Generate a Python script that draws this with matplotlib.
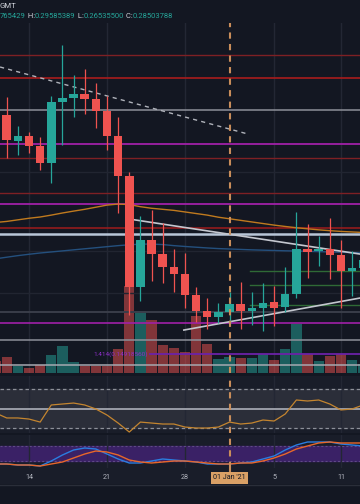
import matplotlib
matplotlib.use("Agg")
import matplotlib.pyplot as plt

plt.rcParams['lines.scale_dashes'] = False
plt.rcParams['font.family'] = ['Roboto', 'DejaVu Sans']

# ---------------- data ----------------
day_idx = list(range(-3, 31))  # Dec 11 .. Jan 13 (0 = Dec 14)
opens = [0.4774, 0.4640, 0.4394, 0.4441, 0.4346, 0.4185, 0.4764, 0.4802, 0.4840, 0.4793,
         0.4679, 0.4441, 0.4061, 0.3007, 0.3453, 0.3320, 0.3197, 0.3130, 0.2931, 0.2779,
         0.2722, 0.2765, 0.2850, 0.2779, 0.2807, 0.2864, 0.2817, 0.2940, 0.3368, 0.3349,
         0.3368, 0.3311, 0.3159, 0.3187]
highs = [0.4830, 0.4812, 0.4536, 0.4479, 0.4432, 0.4821, 0.5305, 0.5021, 0.5078, 0.4945,
         0.4821, 0.4622, 0.4099, 0.3681, 0.3738, 0.3615, 0.3368, 0.3330, 0.3007, 0.2902,
         0.2855, 0.2959, 0.3054, 0.2959, 0.3045, 0.3016, 0.3197, 0.3719, 0.3605, 0.3491,
         0.3662, 0.3453, 0.3349, 0.3311]
lows = [0.4574, 0.4232, 0.4260, 0.4280, 0.4118, 0.3995, 0.4356, 0.4622, 0.4650, 0.4517,
        0.4308, 0.3710, 0.2741, 0.2874, 0.3064, 0.3045, 0.2959, 0.2807, 0.2674, 0.2608,
        0.2665, 0.2654, 0.2608, 0.2646, 0.2589, 0.2636, 0.2769, 0.2902, 0.3092, 0.3206,
        0.3083, 0.2807, 0.2921, 0.3121]
closes = [0.4650, 0.4403, 0.4441, 0.4346, 0.4185, 0.4764, 0.4802, 0.4840, 0.4793, 0.4679,
          0.4441, 0.4061, 0.3007, 0.3453, 0.3320, 0.3197, 0.3130, 0.2931, 0.2779, 0.2722,
          0.2769, 0.2850, 0.2779, 0.2807, 0.2855, 0.2807, 0.2940, 0.3368, 0.3339, 0.3368,
          0.3311, 0.3159, 0.3187, 0.3263]
volumes = [12, 16, 7, 5, 8, 18, 27, 11, 7, 7, 7, 24, 87, 62, 53, 28, 25, 21, 57, 29,
           14, 16, 15, 15, 19, 13, 24, 49, 19, 12, 17, 19, 13, 9]
ma_orange = [0.3620, 0.3630, 0.3645, 0.3660, 0.3672, 0.3690, 0.3710, 0.3728, 0.3745, 0.3765,
             0.3785, 0.3795, 0.3790, 0.3770, 0.3755, 0.3745, 0.3735, 0.3720, 0.3705, 0.3690,
             0.3670, 0.3655, 0.3640, 0.3625, 0.3610, 0.3595, 0.3582, 0.3570, 0.3560, 0.3550,
             0.3542, 0.3535, 0.3530, 0.3525]
ma_blue = [0.3275, 0.3290, 0.3305, 0.3318, 0.3330, 0.3340, 0.3350, 0.3360, 0.3370, 0.3380,
           0.3390, 0.3400, 0.3408, 0.3414, 0.3415, 0.3410, 0.3400, 0.3392, 0.3385, 0.3378,
           0.3372, 0.3368, 0.3364, 0.3360, 0.3357, 0.3354, 0.3351, 0.3349, 0.3346, 0.3343,
           0.3340, 0.3337, 0.3334, 0.3331]
rsi = [45.4, 40.3, 40.3, 39.2, 36.1, 53.6, 54.6, 55.6, 53.6, 49.5, 43.3, 35.1, 25.9, 36.1,
       35.1, 34.1, 34.1, 31.0, 30.0, 30.0, 31.0, 36.1, 34.1, 35.1, 38.2, 37.2, 44.4, 58.7,
       57.7, 58.7, 54.6, 48.5, 49.5, 53.6]
stoch_k = [8, 8, 4, 4, 0, 20, 44, 64, 72, 68, 48, 28, 12, 12, 20, 28, 24, 20, 16, 8, 8, 8,
           12, 16, 28, 40, 64, 84, 96, 96, 96, 88, 84, 80]
stoch_d = [8, 8, 4, 4, 0, 8, 16, 32, 48, 60, 56, 44, 24, 16, 12, 16, 20, 20, 16, 12, 8, 8,
           12, 12, 20, 32, 48, 68, 80, 92, 96, 92, 92, 92]

# horizontal levels (price, color, linewidth)
level_prices = [0.5211, 0.4992, 0.4688, 0.4365, 0.4232, 0.3900, 0.3795, 0.3567, 0.3510,
                0.2769, 0.2665, 0.2503, 0.2266]
level_colors = ['#7e2024', '#a81c1c', '#8d9099', '#a020a8', '#7e2024', '#7e2024', '#a020a8',
                '#9e1c1c', '#b9c6d8', '#3a3e4a', '#a020a8', '#8d9099', '#a6a9b1']
level_widths = [1.0, 1.2, 1.1, 1.3, 1.0, 1.0, 1.3, 1.1, 1.8, 1.4, 1.2, 1.1, 1.1]
pivot_prices = [0.3159, 0.3026, 0.2836]
fib_price = 0.2370
fib_label = "1.414(0.14918560)"
# trend lines: (x0, p0, x1, p1)
trend_dashed = (-2.6, 0.5097, 19.66, 0.4460)
trend_upper = (8.98, 0.3653, 29.7, 0.3320)
trend_lower = (13.9, 0.2598, 29.7, 0.2902)

tick_idx = [0, 7, 14, 22, 28]
tick_labels = ["14", "21", "28", "5", "11"]
cross_idx = 18
cross_label = "01 Jan '21"
header_parts = [("765429", 'v'), (" H:", 'k'), ("0.29585389", 'v'), (" L:", 'k'),
                ("0.26535500", 'v'), (" C:", 'k'), ("0.28503788", 'v')]

# ---------------- style ----------------
W, H = 360, 504
BG = '#191d29'
HEADER = '#131722'
UP, DOWN = '#26a69a', '#ef5350'
XLIM = (-2.604, 29.71)

fig = plt.figure(figsize=(W / 100, H / 100), dpi=100, facecolor=HEADER)


def add_ax(y0, y1):
    a = fig.add_axes([0, 1 - y1 / H, 1, (y1 - y0) / H])
    a.set_facecolor(BG)
    a.set_xlim(*XLIM)
    a.set_xticks([])
    a.set_yticks([])
    for s in a.spines.values():
        s.set_visible(False)
    return a


# main pane (volume on a twin axis drawn beneath)
ax = add_ax(23, 373)
ax.set_ylim(0.2190, 0.5515)
axv = ax.twinx()
axv.set_ylim(0, 350)
axv.set_yticks([])
for s in axv.spines.values():
    s.set_visible(False)
ax.set_zorder(axv.get_zorder() + 1)
ax.patch.set_visible(False)
axv.set_facecolor(BG)

for t in tick_idx:
    axv.axvline(t, color='#232734', lw=1.0, zorder=0)
for yg in [0.4100, 0.3350, 0.2950]:
    ax.axhline(yg, color='#212531', lw=1.0, zorder=0)

colors = [UP if c >= o else DOWN for o, c in zip(opens, closes)]
axv.bar(day_idx, volumes, width=0.92, color=colors, alpha=0.5, zorder=1)

for p, c, w in zip(level_prices, level_colors, level_widths):
    ax.axhline(p, color=c, lw=w, zorder=2)
for p in pivot_prices:
    ax.plot([19.84, XLIM[1]], [p, p], color='#2f6a36', lw=1.0, zorder=2)
ax.plot([10.86, XLIM[1]], [fib_price, fib_price], color='#6b22a8', lw=1.3, zorder=2)
ax.text(10.7, fib_price, fib_label, color='#8e2fc9', fontsize=4.6, ha='right', va='center',
        zorder=3)

ax.plot(day_idx, ma_orange, color='#c07a1e', lw=1.0, zorder=2)
ax.plot(day_idx, ma_blue, color='#24507e', lw=1.0, zorder=2)

x0, p0, x1, p1 = trend_dashed
ax.plot([x0, x1], [p0, p1], color='#b0b3bb', lw=1.0, dashes=(3, 3), zorder=2)
for tr in (trend_upper, trend_lower):
    x0, p0, x1, p1 = tr
    ax.plot([x0, x1], [p0, p1], color='#c4c7cf', lw=1.2, zorder=2)

for i, o, h, l, c, col in zip(day_idx, opens, highs, lows, closes, colors):
    ax.plot([i, i], [l, h], color=col, lw=0.9, zorder=4, solid_capstyle='butt')
    lo, hi = min(o, c), max(o, c)
    ax.bar(i, max(hi - lo, 0.0012), bottom=lo, width=0.76, color=col, zorder=5, lw=0)

# RSI pane
ar = add_ax(376, 433)
ar.set_ylim(24.9, 83.3)
ar.axhspan(30, 70, color='#2b2e39', zorder=0)
ar.axhline(70, color='#8d9099', lw=0.9, dashes=(2.5, 2), zorder=1)
ar.axhline(30, color='#8d9099', lw=0.9, dashes=(2.5, 2), zorder=1)
ar.axhline(50, color='#9a9da6', lw=1.4, zorder=1)
for t in tick_idx:
    ar.axvline(t, color='#232734', lw=1.0, zorder=0)
ar.plot(day_idx, rsi, color='#c4852f', lw=0.9, zorder=3)

# Stoch RSI pane
ast = add_ax(435, 468)
ast.set_ylim(-8, 124)
ast.axhspan(20, 80, color='#3a2166', zorder=0)
ast.axhline(80, color='#5f4a86', lw=0.8, dashes=(1.5, 1.5), zorder=1)
ast.axhline(20, color='#5f4a86', lw=0.8, dashes=(1.5, 1.5), zorder=1)
for t in tick_idx:
    ast.axvline(t, color='#232734', lw=1.0, zorder=0)
ast.plot(day_idx, stoch_k, color='#2a7de1', lw=1.0, zorder=3)
ast.plot(day_idx, stoch_d, color='#e8672a', lw=1.0, zorder=3)

# time axis
at = add_ax(468, 484)
at.set_ylim(0, 1)
for t, lab in zip(tick_idx, tick_labels):
    at.text(t, 0.4, lab, color='#b2b5be', fontsize=5.2, ha='center', va='center')
at.text(cross_idx, 0.4, cross_label, color='#131722', fontsize=5.2, ha='center', va='center',
        zorder=5, bbox=dict(boxstyle='square,pad=0.35', fc='#d9a066', ec='none'))
fig.add_artist(plt.Line2D([0, 1], [1 - 485 / H, 1 - 485 / H], color='#2a2e39', lw=1.0))

# crosshair across panes
for a in (ax, ar, ast):
    a.axvline(cross_idx, color='#c98d5a', lw=1.5, dashes=(4.5, 3.8), zorder=6)
at.plot([cross_idx, cross_idx], [0.75, 1], color='#c98d5a', lw=1.5, zorder=4)

# header text
fig.text(0.0, 1 - 6 / H, "GMT", color='#d1d4dc', fontsize=5.6, ha='left', va='center')
fig.canvas.draw()
renderer = fig.canvas.get_renderer()
xpix = 0.0
for s, kind in header_parts:
    t = fig.text(xpix / W, 1 - 16 / H, s, color=('#26a69a' if kind == 'v' else '#d1d4dc'),
                 fontsize=5.5, ha='left', va='center')
    bb = t.get_window_extent(renderer)
    xpix = bb.x1

fig.savefig('out.png', dpi=100, facecolor=HEADER)
